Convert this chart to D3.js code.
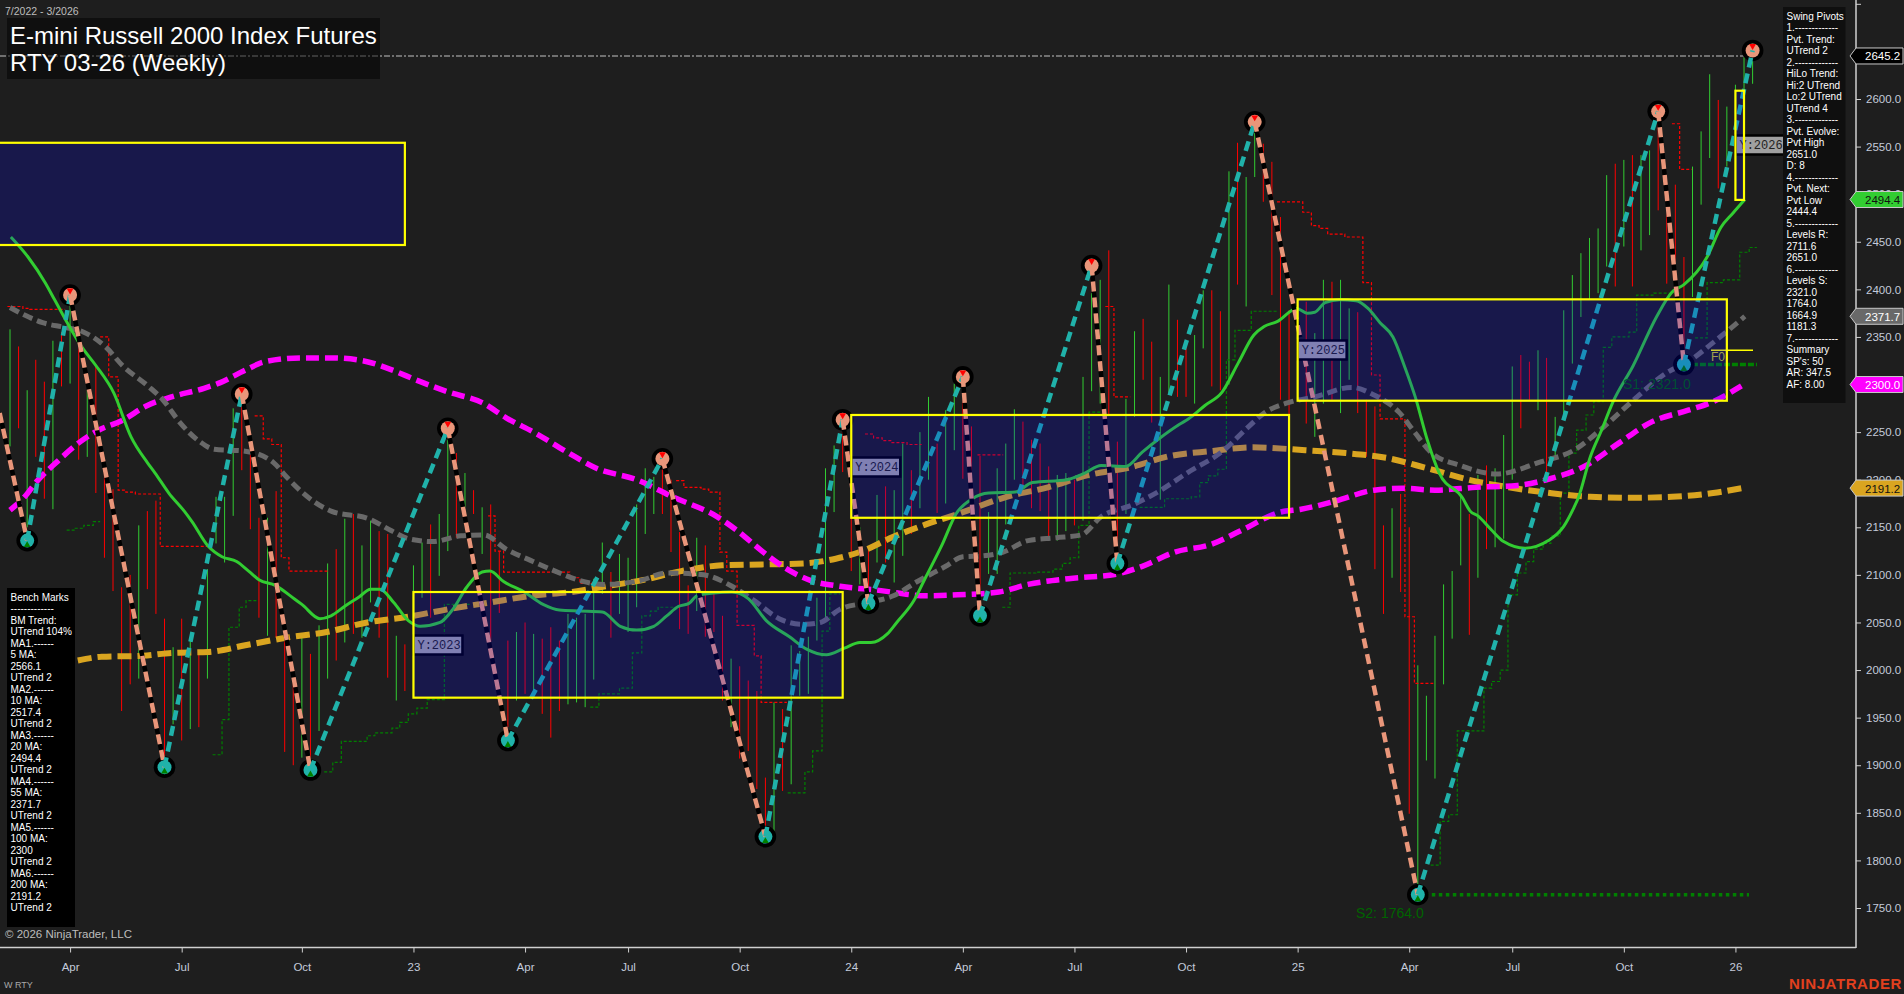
<!DOCTYPE html>
<html>
<head>
<meta charset="utf-8">
<title>RTY 03-26 (Weekly)</title>
<script src="https://cdn.jsdelivr.net/npm/d3@7"></script>
<style>
  html, body { margin: 0; padding: 0; background: #1e1e1e; overflow: hidden; }
  text { font-family: "Liberation Sans", Arial, sans-serif; }
</style>
</head>
<body>
<div id="chart"></div>
<script>
// weekly bars, index = bar number from the left edge of the chart
const barHigh = [2358,2340,2294,2326,2303,2346,2355,2389,2347,2294,2321,2215,2190,2087,2100,2152,2167,2178,2054,2024,
  2054,2031,2019,2106,2182,2182,2275,2284,2235,2160,2160,2188,2034,2003,2034,2017,2047,2112,2127,2159,
  2164,2131,2157,2146,2143,2036,2027,2110,2134,2153,2164,2242,2228,2207,2189,2171,2174,2125,2031,2040,
  2050,2038,2033,2045,2031,2059,2055,2059,2096,2134,2103,2122,2118,2174,2212,2203,2214,2200,2145,2089,
  2139,2131,2080,2057,2012,2004,1989,1978,1887,1966,1959,2026,2020,2035,2076,2212,2236,2252,2190,2150,
  2127,2184,2193,2189,2238,2210,2250,2287,2238,2273,2301,2301,2256,2225,2166,2212,2238,2274,2261,2242,
  2238,2214,2205,2207,2200,2308,2396,2410,2441,2240,2285,2356,2369,2345,2308,2405,2368,2347,2352,2399,
  2399,2377,2524,2554,2518,2574,2553,2534,2476,2378,2385,2387,2354,2410,2408,2410,2380,2376,2284,2277,
  2152,2170,2185,2150,2005,1973,2036,2090,2104,2182,2164,2205,2215,2212,2247,2319,2331,2324,2336,2328,
  2266,2378,2415,2438,2454,2464,2520,2532,2536,2541,2541,2546,2585,2508,2510,2434,2529,2566,2626,2599,
  2592,2615,2644,2655];
const barLow = [2235,2254,2150,2224,2180,2169,2298,2301,2221,2224,2186,2118,2083,1957,1985,1991,2085,2059,1908,1943,
  1926,1938,1940,1991,2133,2113,2162,2210,2148,2055,2036,2034,1914,1900,1908,1898,1936,1991,2010,2029,
  2038,2034,2071,2034,1992,1968,1978,2030,2076,2055,2099,2125,2139,2171,2164,2122,2030,2060,1940,1968,
  1975,1971,1954,1929,1957,1964,1966,1961,1990,2080,2034,2059,2040,2066,2143,2164,2164,2124,2043,2038,
  2062,2035,2040,1968,1940,1907,1915,1875,1831,1831,1873,1880,1973,1975,2031,2055,2166,2208,2104,2090,
  2069,2113,2113,2092,2120,2143,2170,2200,2165,2175,2231,2201,2150,2064,2101,2101,2153,2200,2190,2170,
  2167,2138,2136,2146,2152,2157,2293,2280,2268,2115,2164,2266,2305,2260,2179,2291,2287,2287,2280,2338,
  2298,2294,2300,2405,2382,2518,2492,2394,2284,2266,2300,2259,2245,2280,2284,2270,2305,2270,2224,2106,
  2059,2097,2082,1849,1758,1905,1886,1985,2033,2110,2037,2097,2127,2129,2138,2200,2254,2284,2273,2200,
  2224,2263,2322,2371,2389,2396,2424,2403,2445,2403,2441,2457,2483,2406,2406,2319,2392,2489,2538,2506,
  2529,2540,2525,2616];
const barUp = [1,0,1,0,0,1,0,1,0,1,0,0,0,0,0,1,0,0,0,1,
  0,1,0,1,1,1,1,0,0,0,1,0,0,0,1,0,1,1,0,1,
  0,1,1,0,0,1,0,1,1,0,1,1,0,1,0,1,0,0,0,1,
  0,1,0,0,0,1,1,1,1,1,0,1,1,1,1,1,0,0,0,0,
  1,0,0,0,1,0,0,0,0,1,0,1,1,1,1,1,1,0,0,1,
  0,1,0,1,1,0,1,1,0,1,1,0,0,0,1,1,1,1,0,0,
  0,0,1,1,0,1,1,1,0,0,1,1,0,0,1,1,0,0,1,1,
  0,0,1,0,1,1,0,0,0,0,1,0,1,1,0,1,1,0,0,0,
  0,1,0,0,1,1,1,1,1,1,0,1,0,1,1,1,0,0,1,0,
  1,1,1,1,1,1,1,0,1,0,1,1,0,0,0,0,1,1,1,0,
  1,1,1,1];

// moving averages as [bar, price]
const ma20 = [[0.1,2455],[2.1,2434],[4.1,2407],[5.2,2389],[6.6,2366],[8.4,2339],[10,2320],[12.1,2291],[14.1,2245],[16,2218],[16.9,2207],[18.5,2186],[20.3,2167],[21.2,2156],[23.1,2130],[24.7,2119],[26.4,2114],[27.8,2104],[29,2095],[30.9,2089],[33.1,2075],[34,2069],[36.1,2054],[37.4,2057],[39,2067],[40.7,2077],[42,2085],[43.1,2085],[44.7,2071],[46.4,2052],[47.8,2046],[50.1,2050],[51.6,2064],[53.2,2087],[55,2103],[55.9,2104],[57.5,2093],[59.9,2082],[62.1,2069],[64,2063],[66.4,2062],[69,2061],[71.1,2046],[73,2042],[75,2046],[76.5,2057],[77.9,2067],[79.1,2070],[80,2078],[82,2081],[84.1,2082],[86,2075],[88.1,2052],[90.8,2035],[92.8,2022],[95.1,2016],[97.2,2023],[99,2029],[100.3,2029],[102.2,2038],[103.3,2050],[105.3,2073],[106.7,2098],[108.6,2132],[110.2,2164],[112.1,2180],[114,2186],[117.1,2187],[119.1,2197],[123.1,2200],[125.2,2207],[127.1,2215],[130,2214],[131.9,2229],[133.7,2242],[136.2,2258],[137.3,2264],[139.2,2278],[141.2,2292],[143.1,2323],[144.9,2352],[146.1,2361],[147.6,2366],[149.9,2380],[151.1,2375],[152,2376],[153.2,2386],[154.9,2389],[156.8,2388],[158.2,2380],[159.6,2365],[161.1,2350],[162.5,2318],[163.7,2287],[165.1,2242],[166.5,2207],[169.2,2181],[170.1,2167],[171,2162],[172.5,2148],[174,2135],[176.5,2128],[179.2,2136],[181,2151],[182.2,2171],[182.7,2181],[184.1,2224],[185.4,2252],[186.7,2281],[189.1,2320],[191.8,2371],[193.6,2397],[195,2405],[197.7,2434],[199.3,2465],[200.7,2480],[202.1,2494.4]];
const ma55 = [[0,2381],[1.7,2373],[3.8,2365],[6.4,2360],[8.6,2355],[11.2,2339],[13.1,2320],[16,2299],[17.8,2284],[19.8,2260],[22.1,2240],[23.8,2232],[27.4,2230],[30.7,2218],[32.2,2203],[35.4,2177],[37.4,2167],[41.8,2159],[44.5,2146],[46.4,2138],[49.3,2135],[52.5,2141],[55.2,2142],[57.8,2127],[60.7,2115],[63.5,2104],[66.4,2094],[69.2,2090],[73.4,2094],[76.5,2102],[79.6,2101],[81.4,2099],[84.1,2088],[86.7,2073],[89.6,2054],[92.4,2048],[94.4,2050],[96.7,2064],[100,2071],[102.9,2078],[105.7,2093],[109,2109],[111,2119],[113.4,2120],[115.7,2124],[118.6,2136],[121.9,2139],[124.8,2142],[127.1,2161],[130.9,2174],[133.7,2187],[137.1,2207],[141.4,2231],[144.2,2255],[146.1,2270],[148.9,2281],[152,2287],[156.3,2297],[158.9,2289],[161.8,2271],[163.7,2249],[165.5,2229],[168.9,2215],[173.2,2206],[178.4,2219],[182.2,2231],[185.6,2255],[188.8,2281],[193.1,2313],[195.5,2324],[198.4,2344],[202.1,2371.7]];
const ma100 = [[0,2168],[1.7,2182],[3.1,2198],[5.5,2219],[8.2,2240],[10.3,2252],[13,2262],[16,2278],[18.8,2287],[22.6,2296],[24.5,2302],[27.4,2315],[29.7,2324],[34,2328],[37.4,2328],[41.6,2324],[44,2317],[47.8,2303],[51.1,2292],[55,2281],[57.8,2265],[61.2,2249],[64.9,2229],[68.3,2212],[73,2200],[77.2,2182],[82.4,2161],[84.8,2146],[87.6,2125],[90,2109],[93.3,2094],[96.7,2088],[101,2084],[106.7,2078],[110.4,2079],[115.2,2082],[118.6,2090],[123.3,2096],[129,2101],[131.9,2109],[135.7,2124],[139.9,2132],[143.3,2146],[148,2166],[150.4,2169],[154.2,2177],[158.9,2189],[162.3,2191],[166,2189],[170.8,2192],[175.6,2194],[179.4,2201],[183.6,2215],[187.5,2239],[191.3,2261],[195.5,2273],[198.4,2282],[201.7,2298.5]];
const ma200 = [[7.9,2010],[10.7,2014],[15.5,2015],[18.8,2018],[23.1,2019],[27.4,2026],[32.2,2034],[36.9,2040],[41.6,2050],[46.4,2056],[51.1,2064],[55.9,2071],[60.7,2078],[65.4,2082],[70.1,2089],[73.4,2094],[78.2,2104],[82.9,2110],[87.6,2111],[92.4,2112],[96.2,2117],[99,2124],[102.9,2140],[106.7,2153],[110.4,2164],[116.1,2182],[120.9,2192],[125.7,2205],[130.5,2213],[135.2,2225],[139.9,2230],[144.7,2234],[150.9,2231],[155.6,2228],[160.3,2223],[165.1,2212],[169.9,2200],[174.6,2192],[179.4,2186],[184.1,2182],[188.8,2181],[193.6,2182],[198.4,2186],[201.8,2191.2]];

// swing pivots, first point is where the line comes in from the left edge
const pivotBar =   [-1.2,2,7,18,27,35,51,58,76,88,97,100,111,113,126,129,145,164,192,195,203];
const pivotPrice = [2270,2136,2394,1898,2290,1895,2254,1926,2222,1825,2263,2070,2308,2057,2425,2112,2576,1764,2587,2321,2651];

// trailing stop steps
const stopRed = [
  [[-0.3,2382],[1.5,2380],[2.3,2379],[6.4,2379]],
  [[10.5,2350],[11.5,2308],[12.6,2189],[13.5,2187],[14.6,2185],[17.5,2130],[23.5,2130]],
  [[28.5,2267],[29.5,2243],[30.5,2237],[31.6,2118],[32.5,2104],[37,2104]],
  [[55.7,2162],[56.5,2125],[57.5,2103],[65.2,2097],[66.4,2091],[68.7,2091]],
  [[77.6,2199],[78.5,2192],[80.5,2190],[81.4,2187],[82.7,2124],[83.5,2104],[84.7,2047],[86.7,2015],[87.5,1966],[90.5,1966]],
  [[99.6,2248],[100.6,2244],[101.6,2241],[102.6,2239],[104.5,2237],[106.2,2237]],
  [[112.7,2226],[115.7,2226]],
  [[127.6,2382],[128.6,2287],[130.5,2287]],
  [[147.6,2492],[150.6,2481],[151.6,2467],[152.5,2464],[153.5,2458],[155.5,2455],[157.6,2407],[158.6,2310],[159.6,2264],[162.5,2056],[163.6,1986],[165.8,1986]],
  [[193.6,2574],[194.5,2526],[195.9,2526]]
];
const stopGreen = [
  [[6.6,2147],[7.6,2149],[8.6,2152],[9.7,2156],[10.5,2156]],
  [[23.6,1911],[24.7,1948],[25.5,2045],[26.7,2066],[27.5,2073],[28.7,2073]],
  [[36.6,1893],[37.6,1903],[38.6,1925],[41.6,1931],[42.5,1934],[44.5,1939],[45.4,1945],[46.4,1954],[47.4,1960],[48.6,1969],[50.6,2069],[53.6,2069]],
  [[67.6,1961],[68.6,1975],[71,1981],[72.5,2018],[73.6,2057],[74.6,2062],[75.5,2066],[78,2066]],
  [[90.6,1871],[92.6,1893],[93.5,1915],[94.6,2041],[95.5,2080],[96.7,2080]],
  [[115.6,2066],[116.5,2102],[119.5,2103],[121.5,2106],[122.6,2112],[123.5,2118],[124.5,2152],[125.7,2271],[127.6,2271]],
  [[131.6,2171],[134.5,2180],[137.6,2182],[138.6,2197],[139.6,2204],[140.7,2211],[141.7,2326],[142.7,2357],[144.6,2377],[147.6,2377]],
  [[165.5,1795],[166.6,1841],[167.6,1848],[168.6,1936],[171.7,1981],[172.6,1988],[173.6,2000],[174.5,2079],[175.6,2102],[176.6,2114],[177.5,2127],[178.6,2133],[179.5,2141],[180.6,2186],[181.6,2228],[182.5,2252],[183.6,2268],[184.5,2282],[185.6,2339],[186.6,2350],[188.6,2355],[189.5,2394],[191.5,2396],[194.5,2396]],
  [[196.3,2349],[197.7,2407],[199.6,2410],[201.5,2439],[202.6,2444],[203.5,2444]]
];

// yearly range boxes
const yearNames = ['', 'Y:2023', 'Y:2024', 'Y:2025', 'Y:2026'];
const yearFrom =  [-3, 47, 98, 150, 201];
const yearTo =    [46, 97, 149, 200, 202];
const yearHigh =  [2554, 2082, 2268, 2389.5, 2608.7];
const yearLow =   [2446.6, 1971, 2160, 2283, 2494];

// axis
const tickBars = [7,20,34,47,60,72,85,98,111,124,137,150,163,175,188,201];
const tickNames = ['Apr','Jul','Oct','23','Apr','Jul','Oct','24','Apr','Jul','Oct','25','Apr','Jul','Oct','26'];
const priceTicks = [1750,1800,1850,1900,1950,2000,2050,2100,2150,2200,2250,2300,2350,2400,2450,2500,2550,2600,2650,2700];
const priceHidden = [2650, 2700]; // tick only, label is covered or cut off

// price tags on the right axis
const tagPrice = [2645.2, 2494.4, 2371.7, 2300, 2191.2];
const tagFill = ['#000000', '#32cd32', '#696969', '#ff00ff', '#daa520'];
const tagText = ['#ffffff', '#111111', '#ffffff', '#ffffff', '#111111'];

const benchLines = ['Bench Marks','-------------','BM Trend:','UTrend 104%','MA1.------','5 MA:','2566.1','UTrend 2','MA2.------','10 MA:','2517.4','UTrend 2','MA3.------','20 MA:','2494.4','UTrend 2','MA4.------','55 MA:','2371.7','UTrend 2','MA5.------','100 MA:','2300','UTrend 2','MA6.------','200 MA:','2191.2','UTrend 2'];
const swingLines = ['Swing Pivots','1.-------------','Pvt. Trend:','UTrend 2','2.-------------','HiLo Trend:','Hi:2 UTrend','Lo:2 UTrend','UTrend 4','3.-------------','Pvt. Evolve:','Pvt High','2651.0','D: 8','4.-------------','Pvt. Next:','Pvt Low','2444.4','5.-------------','Levels R:','2711.6','2651.0','6.-------------','Levels S:','2321.0','1764.0','1664.9','1181.3','7.-------------','Summary',"SP's: 50",'AR: 347.5','AF: 8.00'];

const width = 1904, height = 994;
const svg = d3.select('#chart').append('svg')
  .attr('width', width).attr('height', height)
  .style('display', 'block').style('background', '#1e1e1e');

const x = d3.scaleLinear().domain([0, 203]).range([10, 1752.6]);
const y = d3.scaleLinear().domain([1750, 2600]).range([908, 99]);

const maLine = d3.line().x(d => x(d[0])).y(d => y(d[1])).curve(d3.curveMonotoneX);
const stepLine = d3.line().x(d => x(d[0])).y(d => y(d[1])).curve(d3.curveStepAfter);
const legLine = d3.line().x(d => x(d[0])).y(d => y(d[1]));

const plot = svg.append('g');

// bars
plot.append('g').selectAll('line').data(barHigh).enter().append('line')
  .attr('x1', (d, i) => x(i)).attr('x2', (d, i) => x(i))
  .attr('y1', d => y(d)).attr('y2', (d, i) => y(barLow[i]))
  .attr('stroke', (d, i) => barUp[i] ? '#32cd32' : '#ff0000')
  .attr('stroke-width', 1);

// stops
plot.append('g').selectAll('path').data(stopRed).enter().append('path')
  .attr('d', stepLine).attr('fill', 'none')
  .attr('stroke', '#ff0000').attr('stroke-width', 1.2).attr('stroke-dasharray', '3,2');
plot.append('g').selectAll('path').data(stopGreen).enter().append('path')
  .attr('d', stepLine).attr('fill', 'none')
  .attr('stroke', '#008000').attr('stroke-width', 1.2).attr('stroke-dasharray', '3,2');

// last price line
plot.append('line')
  .attr('x1', 0).attr('x2', x(202))
  .attr('y1', y(tagPrice[0])).attr('y2', y(tagPrice[0]))
  .attr('stroke', '#8c8c8c').attr('stroke-width', 1.5).attr('stroke-dasharray', '6,2,2,2');

// moving averages
const maStyles = [
  { data: ma200, color: '#daa520', w: 6, dash: '14,6' },
  { data: ma100, color: '#ff00ff', w: 5.5, dash: '13,6' },
  { data: ma55, color: '#696969', w: 5, dash: '10,5' },
  { data: ma20, color: '#32cd32', w: 3, dash: null }
];
maStyles.forEach(m => {
  plot.append('path').attr('d', maLine(m.data)).attr('fill', 'none')
    .attr('stroke', m.color).attr('stroke-width', m.w)
    .attr('stroke-dasharray', m.dash);
});

// support lines and F0
plot.append('line').attr('x1', x(164)).attr('x2', 1749)
  .attr('y1', y(1764)).attr('y2', y(1764))
  .attr('stroke', '#008000').attr('stroke-width', 3.5).attr('stroke-dasharray', '3.5,3.5');
plot.append('line').attr('x1', x(195)).attr('x2', 1757)
  .attr('y1', y(2321)).attr('y2', y(2321))
  .attr('stroke', '#008000').attr('stroke-width', 3.5).attr('stroke-dasharray', '6,2');
plot.append('line').attr('x1', 1711).attr('x2', 1753)
  .attr('y1', y(2336)).attr('y2', y(2336))
  .attr('stroke', '#ffff00').attr('stroke-width', 1.5);
plot.append('text').attr('x', 1711).attr('y', 361).attr('font-size', 12).attr('fill', '#c8c820').text('F0');
plot.append('text').attr('x', 1356).attr('y', 918).attr('font-size', 14).attr('fill', '#006400').text('S2: 1764.0');
plot.append('text').attr('x', 1623).attr('y', 389).attr('font-size', 14).attr('fill', '#006400').text('S1: 2321.0');

// swing legs, each leg its own path so the dashes restart at the pivot
const legs = d3.pairs(pivotBar.map((b, i) => [b, pivotPrice[i]]));
const downLegs = legs.filter(d => d[1][1] < d[0][1]);
// falling legs have a black line under them, on the long 2025 fall only the first part
plot.append('g').selectAll('path').data(downLegs).enter().append('path')
  .attr('d', legLine).attr('fill', 'none')
  .attr('stroke', '#000').attr('stroke-width', 4.5)
  .attr('stroke-dasharray', d => d[0][0] === 145 ? '220,2000' : null);

// pivot markers, over the black line and under the coloured legs
const pivots = pivotBar.map((b, i) => ({ b, p: pivotPrice[i], high: i % 2 === 0 })).slice(1);
const marker = plot.append('g').selectAll('g').data(pivots).enter().append('g')
  .attr('transform', d => `translate(${x(d.b)},${y(d.p)})`);
marker.append('circle').attr('r', 10.8).attr('fill', '#000');
marker.append('circle').attr('r', 7).attr('fill', d => d.high ? '#e9967a' : '#20b2aa');
marker.append('path')
  .attr('d', d3.symbol().type(d3.symbolTriangle).size(20))
  .attr('transform', d => d.high ? 'translate(0,-4.5) rotate(180)' : 'translate(0,4.5)')
  .attr('fill', d => d.high ? '#ff0000' : '#008000');

plot.append('g').selectAll('path').data(legs).enter().append('path')
  .attr('d', legLine).attr('fill', 'none')
  .attr('stroke', d => d[1][1] > d[0][1] ? '#20b2aa' : '#e9967a')
  .attr('stroke-width', 4.5)
  .attr('stroke-dasharray', '10,6');

// year labels sit under the blue boxes
const yearLabels = plot.append('g').selectAll('g')
  .data(yearNames.map((n, i) => ({ n, i })).filter(d => d.n)).enter().append('g')
  .attr('transform', d => `translate(${x(yearFrom[d.i])},${[0, 645, 467, 350, 145][d.i]})`);
yearLabels.append('rect').attr('x', 0).attr('y', -9.5).attr('width', 49).attr('height', 19)
  .attr('fill', '#a0a0a0').attr('stroke', '#000').attr('stroke-width', 2.5);
yearLabels.append('text').attr('x', 4).attr('y', 4)
  .attr('font-size', 12).style('font-family', '"Liberation Mono", monospace')
  .attr('fill', '#222').text(d => d.n);

// yearly boxes go on top of everything in the plot, blue with low opacity
svg.append('g').selectAll('rect').data(yearHigh).enter().append('rect')
  .attr('x', (d, i) => x(yearFrom[i]))
  .attr('y', d => y(d))
  .attr('width', (d, i) => x(yearTo[i]) - x(yearFrom[i]))
  .attr('height', (d, i) => y(yearLow[i]) - y(d))
  .attr('fill', '#0000ff').attr('fill-opacity', 0.2)
  .attr('stroke', '#ffff00').attr('stroke-width', 2.2);

// axes
const xAxis = d3.axisBottom(x).tickValues(tickBars).tickSize(5).tickPadding(10)
  .tickFormat((d, i) => tickNames[i]);
const xg = svg.append('g').attr('transform', 'translate(0,947.5)').call(xAxis);
xg.select('.domain').remove();
xg.append('line').attr('x1', 0).attr('x2', 1856).attr('stroke', '#d0d0d0').attr('stroke-width', 1.5);

const yAxis = d3.axisRight(y).tickValues(priceTicks).tickSize(5).tickPadding(5)
  .tickFormat(d => priceHidden.includes(d) ? '' : d3.format('.1f')(d));
const yg = svg.append('g').attr('transform', 'translate(1856,0)').call(yAxis);
yg.select('.domain').remove();
yg.append('line').attr('y1', 0).attr('y2', 948).attr('stroke', '#d0d0d0').attr('stroke-width', 1.5);

[xg, yg].forEach(g => {
  g.selectAll('.tick line').attr('stroke', '#d0d0d0');
  g.selectAll('.tick text').attr('fill', '#c4cbda').attr('font-size', 11.5)
    .style('font-family', '"Liberation Sans", Arial, sans-serif');
});

// price tags
const tags = svg.append('g').selectAll('g').data(tagPrice).enter().append('g')
  .attr('transform', d => `translate(1850,${y(d)})`);
tags.append('path').attr('d', 'M0,0 L6,-8 L53,-8 L53,8 L6,8 Z')
  .attr('fill', (d, i) => tagFill[i]).attr('stroke', '#c8c8c8').attr('stroke-width', 1);
tags.append('text').attr('x', 15).attr('y', 4.5).attr('font-size', 11.5)
  .attr('fill', (d, i) => tagText[i]).text(d => d.toFixed(1));

// title
svg.append('rect').attr('x', 7).attr('y', 18).attr('width', 373).attr('height', 61)
  .attr('fill', '#000').attr('fill-opacity', 0.5);
svg.append('text').attr('x', 10).attr('y', 44).attr('font-size', 24).attr('fill', '#fff')
  .text('E-mini Russell 2000 Index Futures');
svg.append('text').attr('x', 10).attr('y', 71).attr('font-size', 24).attr('fill', '#fff')
  .text('RTY 03-26 (Weekly)');
svg.append('text').attr('x', 5).attr('y', 15).attr('font-size', 10.5).attr('fill', '#bdbdbd')
  .text('7/2022 - 3/2026');

// info panels
svg.append('rect').attr('x', 7).attr('y', 588).attr('width', 68).attr('height', 339).attr('fill', '#000');
svg.append('g').selectAll('text').data(benchLines).enter().append('text')
  .attr('x', 10.5).attr('y', (d, i) => 600.5 + i * 11.5)
  .attr('font-size', 10).attr('fill', '#fff').text(d => d);

svg.append('rect').attr('x', 1783).attr('y', 7).attr('width', 62.5).attr('height', 396).attr('fill', '#0f0f0f');
svg.append('g').selectAll('text').data(swingLines).enter().append('text')
  .attr('x', 1786.5).attr('y', (d, i) => 19.5 + i * 11.5)
  .attr('font-size', 10).attr('fill', '#fff').text(d => d);

// footer
svg.append('text').attr('x', 5).attr('y', 938).attr('font-size', 11.5).attr('fill', '#bdbdbd')
  .text('\u00a9 2026 NinjaTrader, LLC');
svg.append('text').attr('x', 4).attr('y', 988).attr('font-size', 9).attr('fill', '#a8a8a8').text('W RTY');
svg.append('text').attr('x', 1902).attr('y', 989).attr('text-anchor', 'end')
  .attr('font-size', 15).attr('font-weight', 'bold').attr('letter-spacing', 0.6)
  .attr('fill', '#e2401e').text('NINJATRADER');
</script>
</body>
</html>
